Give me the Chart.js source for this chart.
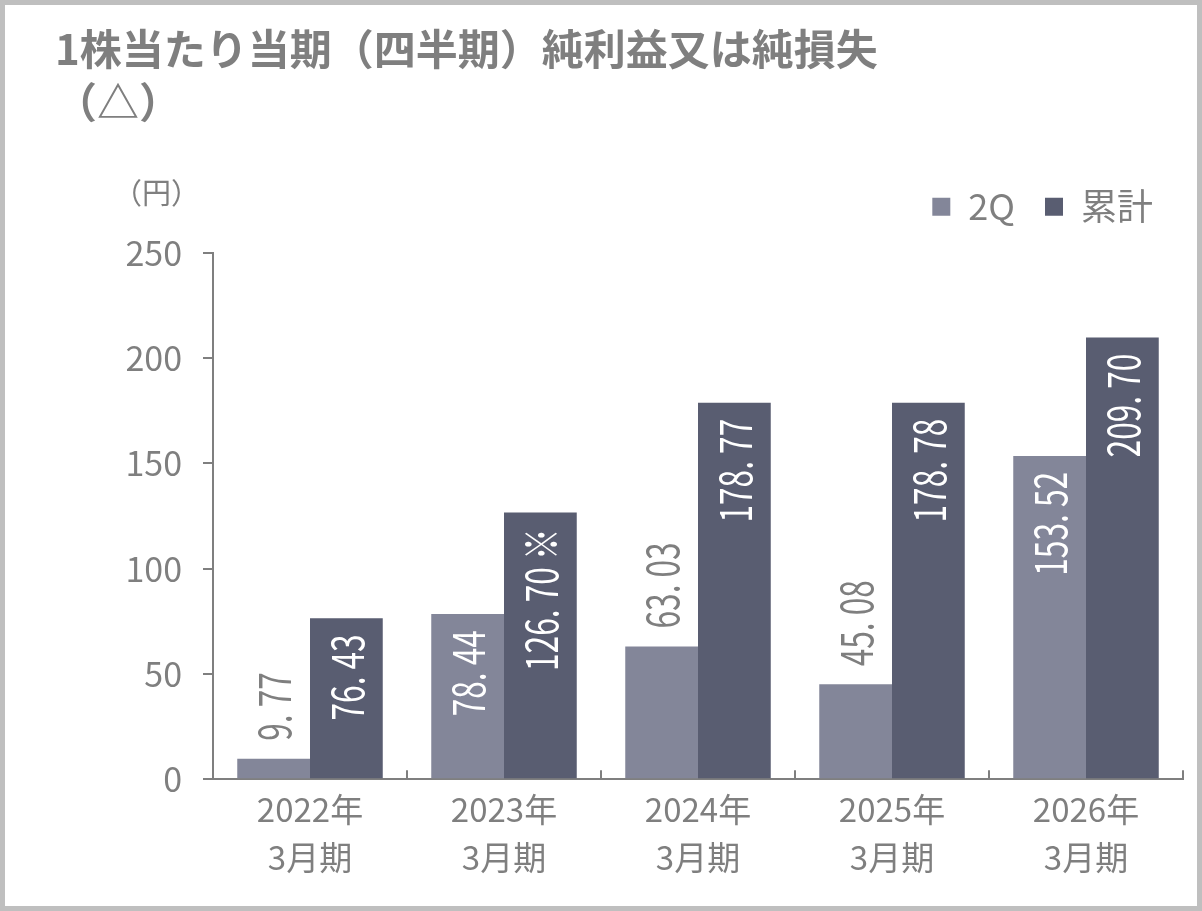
<!DOCTYPE html>
<html lang="ja">
<head>
    <meta charset="UTF-8">
    <title>1株当たり当期（四半期）純利益又は純損失</title>
    <style>
        html, body {
            margin: 0;
            padding: 0;
            background: #fff;
        }

        #frame {
            box-sizing: border-box;
            width: 1202px;
            height: 911px;
            border: 5px solid #bfbfbf;
            position: relative;
        }

        #frame > canvas {
            display: block;
        }
    </style>
</head>
<body>
<div id="frame">
    <canvas id="eps-chart" width="1192" height="901"></canvas>
</div>
<script src="https://cdn.jsdelivr.net/npm/chart.js@4.4.1/dist/chart.umd.min.js"></script>
<script>
    // values
    const periods = [
        ["2022年", "3月期"],
        ["2023年", "3月期"],
        ["2024年", "3月期"],
        ["2025年", "3月期"],
        ["2026年", "3月期"]
    ];
    const quarterValues = [9.77, 78.44, 63.03, 45.08, 153.52];   // 2Q
    const cumulativeValues = [76.43, 126.70, 178.77, 178.78, 209.70]; // 累計
    const cumulativeNotes = ["", " ※", "", "", ""];
    const yTicks = [0, 50, 100, 150, 200, 250];

    const GRAY = "#7f7f7f";
    const JP_FONT = "'Noto Sans CJK JP', sans-serif";

    function fmt(v) {
        return v.toFixed(2).replace(".", ". ");
    }

    // rotated value labels, inside the bar top when they fit, above it otherwise
    // (squeezed sideways a bit, the original uses a narrow typeface)
    const SQUEEZE = 0.72;
    const barLabels = {
        id: "barLabels",
        afterDatasetsDraw(chart) {
            const ctx = chart.ctx;
            ctx.save();
            ctx.font = "44px " + JP_FONT;
            ctx.textBaseline = "middle";
            chart.data.datasets.forEach((ds, di) => {
                const meta = chart.getDatasetMeta(di);
                meta.data.forEach((bar, i) => {
                    const p = bar.getProps(["x", "y", "base"], true);
                    const text = fmt(ds.data[i]) + (ds.notes ? ds.notes[i] : "");
                    const w = ctx.measureText(text).width * SQUEEZE;
                    const h = p.base - p.y;
                    ctx.save();
                    if (w + 50 <= h) {
                        ctx.translate(p.x + 1, p.y + 16);
                        ctx.rotate(-Math.PI / 2);
                        ctx.scale(SQUEEZE, 1);
                        ctx.textAlign = "right";
                        ctx.fillStyle = "#ffffff";
                    } else {
                        ctx.translate(p.x + 1, p.y - 18);
                        ctx.rotate(-Math.PI / 2);
                        ctx.scale(SQUEEZE, 1);
                        ctx.textAlign = "left";
                        ctx.fillStyle = GRAY;
                    }
                    ctx.fillText(text, 0, 0);
                    ctx.restore();
                });
            });
            ctx.restore();
        }
    };

    // unit label above the y axis
    const unitLabel = {
        id: "unitLabel",
        afterDraw(chart) {
            const ctx = chart.ctx;
            const y = chart.scales.y;
            ctx.save();
            ctx.font = "29px " + JP_FONT;
            ctx.fillStyle = GRAY;
            ctx.textAlign = "left";
            ctx.textBaseline = "middle";
            ctx.fillText("（円）", y.left + 58, chart.chartArea.top - 60);
            ctx.restore();
        }
    };

    const chart = new Chart("eps-chart", {
        type: "bar",
        data: {
            labels: periods,
            datasets: [{
                label: "2Q",
                data: quarterValues,
                backgroundColor: "#838699"
            }, {
                label: "累計",
                data: cumulativeValues,
                notes: cumulativeNotes,
                backgroundColor: "#595d71"
            }]
        },
        plugins: [barLabels, unitLabel],
        options: {
            responsive: false,
            animation: false,
            layout: {
                padding: {left: 50, right: 14, top: 0, bottom: 10}
            },
            datasets: {
                bar: {
                    categoryPercentage: 0.75,
                    barPercentage: 1.0
                }
            },
            plugins: {
                title: {
                    display: true,
                    text: ["1株当たり当期（四半期）純利益又は純損失", "（△）"],
                    align: "start",
                    color: GRAY,
                    font: {family: JP_FONT, size: 42, weight: "bold", lineHeight: 1.27},
                    padding: {top: 17, bottom: 30}
                },
                // empty subtitle kept under the legend as a spacer
                subtitle: {
                    display: true,
                    text: "",
                    weight: 500,
                    font: {size: 2, lineHeight: 1},
                    padding: {top: 0, bottom: 16}
                },
                legend: {
                    position: "top",
                    align: "end",
                    labels: {
                        color: GRAY,
                        boxWidth: 18,
                        boxHeight: 18,
                        padding: 30,
                        font: {family: JP_FONT, size: 36}
                    }
                },
                tooltip: {
                    enabled: false
                }
            },
            scales: {
                x: {
                    grid: {
                        offset: true,
                        drawOnChartArea: false,
                        drawTicks: true,
                        tickLength: -9,
                        color: GRAY,
                        lineWidth: 2
                    },
                    border: {
                        color: GRAY,
                        width: 2
                    },
                    ticks: {
                        color: GRAY,
                        padding: 15,
                        maxRotation: 0,
                        font: {family: JP_FONT, size: 33, lineHeight: 1.45}
                    }
                },
                y: {
                    min: 0,
                    max: 250,
                    afterBuildTicks: scale => {
                        scale.ticks = yTicks.map(v => ({value: v}));
                    },
                    afterFit: scale => {
                        scale.width = 158;
                    },
                    grid: {
                        drawOnChartArea: false,
                        drawTicks: true,
                        tickLength: 10,
                        color: GRAY,
                        lineWidth: 2
                    },
                    border: {
                        color: GRAY,
                        width: 2
                    },
                    ticks: {
                        color: GRAY,
                        padding: 21,
                        font: {family: JP_FONT, size: 34}
                    }
                }
            }
        }
    });
</script>
</body>
</html>
